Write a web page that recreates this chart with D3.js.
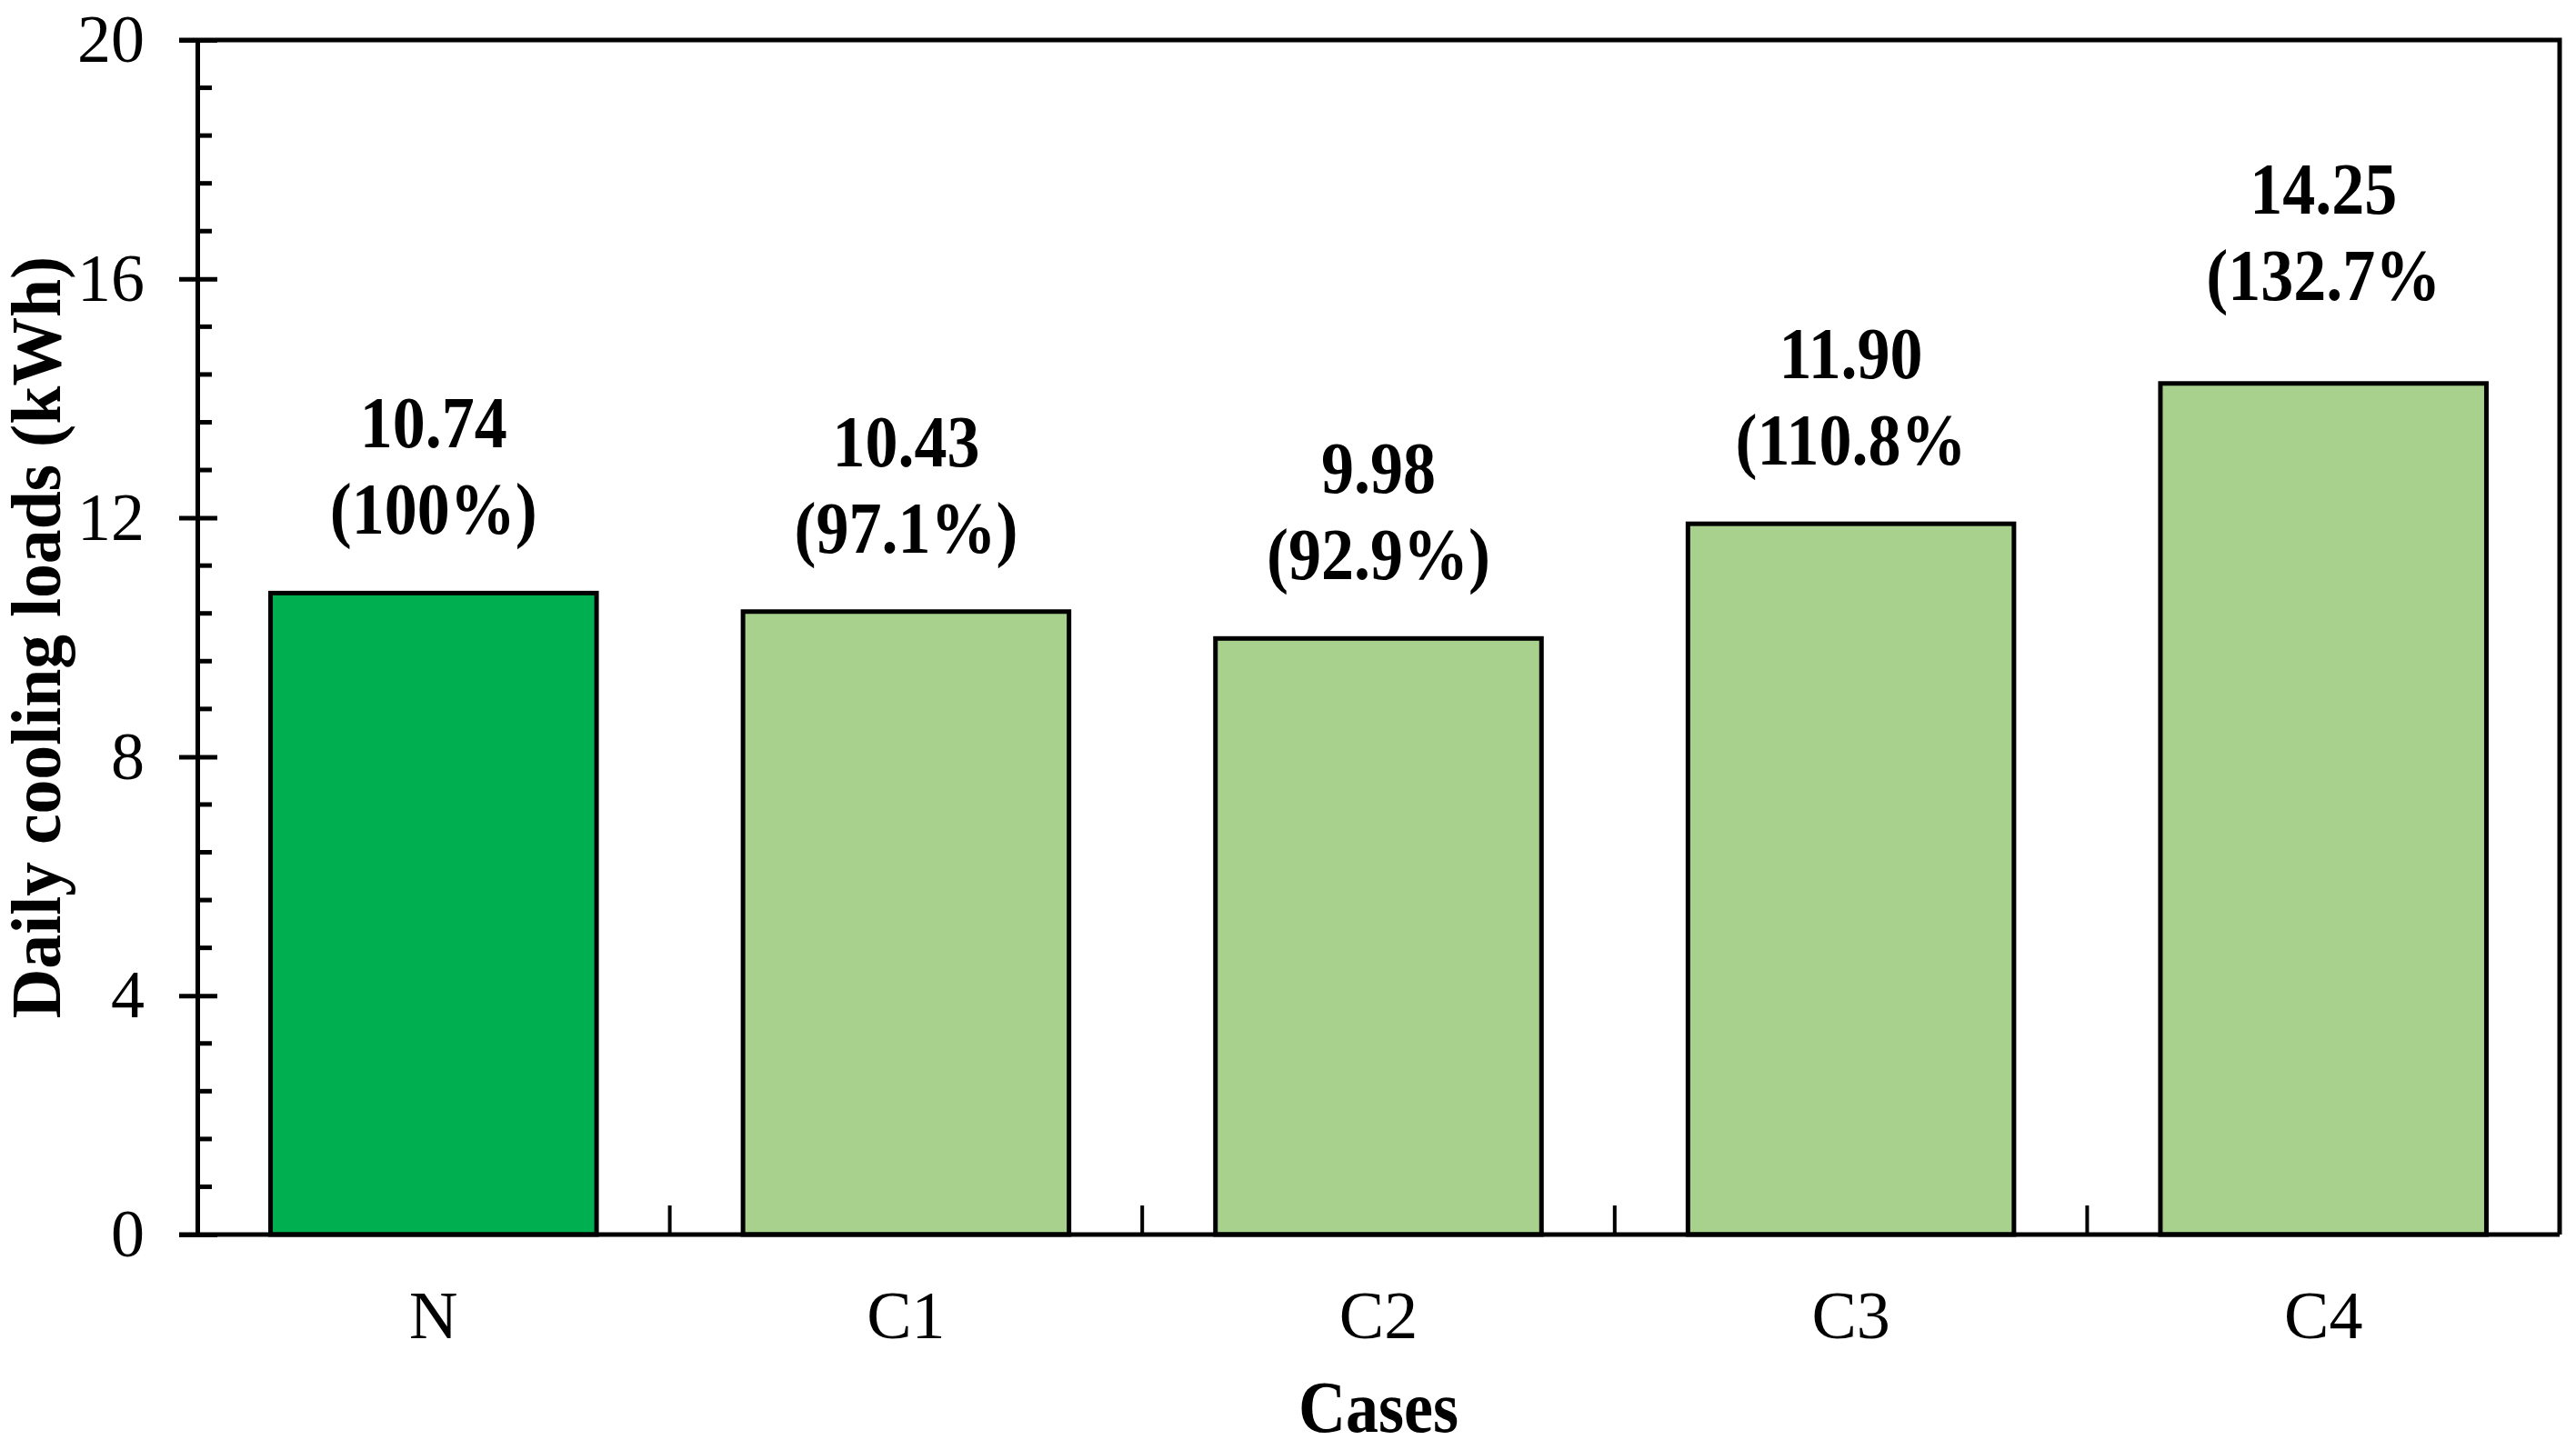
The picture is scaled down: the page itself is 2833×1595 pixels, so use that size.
<!DOCTYPE html>
<html>
<head>
<meta charset="utf-8">
<script src="https://cdn.jsdelivr.net/npm/d3@7"></script>
<style>
  body { margin: 0; background: #fff; }
  svg { display: block; }
</style>
</head>
<body>
<div id="chart"></div>
<script>
// chart data
var cases = ["N", "C1", "C2", "C3", "C4"];
var loads = [10.74, 10.43, 9.98, 11.90, 14.25];
var shares = ["(100%)", "(97.1%)", "(92.9%)", "(110.8%", "(132.7%"];
var yTicks = [0, 4, 8, 12, 16, 20];

// canvas
var svgWidth = 2833;
var svgHeight = 1595;
var plotLeft = 217, plotRight = 2815, plotTop = 44, plotBottom = 1358;

var svg = d3.select("#chart")
  .append("svg")
  .attr("width", svgWidth)
  .attr("height", svgHeight);

var serif = "'Liberation Serif', 'Times New Roman', serif";

// scales
var x = d3.scaleBand()
  .domain(cases)
  .range([plotLeft, plotRight])
  .paddingInner(0.31)
  .paddingOuter(0.155);

var y = d3.scaleLinear().domain([0, 20]).range([plotBottom, plotTop]);

// frame (top and right borders)
svg.append("path")
  .attr("d", `M${plotLeft - 20},${plotTop} H${plotRight} V${plotBottom}`)
  .attr("fill", "none")
  .attr("stroke", "#000")
  .attr("stroke-width", 5);

// bars
svg.selectAll("rect.bar")
  .data(loads)
  .enter()
  .append("rect")
  .attr("class", "bar")
  .attr("x", (d, i) => x(cases[i]))
  .attr("y", d => y(d))
  .attr("width", x.bandwidth())
  .attr("height", d => y(0) - y(d))
  .attr("fill", (d, i) => i === 0 ? "#00b050" : "#a9d18e")
  .attr("stroke", "#000")
  .attr("stroke-width", 5);

// y axis: major ticks cross the line, minor ticks point inward
var yAxis = svg.append("g")
  .attr("transform", `translate(${plotLeft},0)`)
  .call(d3.axisLeft(y).tickValues(yTicks).tickSize(20).tickSizeOuter(0).tickPadding(38));
yAxis.select(".domain").attr("stroke-width", 5);
yAxis.selectAll(".tick line")
  .attr("x2", 22).attr("x1", -20)
  .attr("stroke-width", 5);
yAxis.selectAll(".tick text")
  .attr("font-family", serif)
  .attr("font-size", 74)
  .attr("fill", "#000");

var minor = d3.range(0, 20.001, 0.8).filter(v => Math.abs(v / 4 - Math.round(v / 4)) > 1e-6);
svg.append("g")
  .selectAll("line")
  .data(minor)
  .enter()
  .append("line")
  .attr("x1", plotLeft).attr("x2", plotLeft + 16)
  .attr("y1", d => y(d)).attr("y2", d => y(d))
  .attr("stroke", "#000")
  .attr("stroke-width", 5);

// x axis
var xAxis = svg.append("g")
  .attr("transform", `translate(0,${plotBottom})`)
  .call(d3.axisBottom(x).tickSize(0).tickSizeOuter(0).tickPadding(0));
xAxis.select(".domain").remove();
xAxis.selectAll(".tick text")
  .attr("font-family", serif)
  .attr("font-size", 74)
  .attr("fill", "#000")
  .attr("dy", null)
  .attr("y", 114);

svg.append("line")
  .attr("x1", plotLeft - 20).attr("x2", plotRight)
  .attr("y1", plotBottom).attr("y2", plotBottom)
  .attr("stroke", "#000")
  .attr("stroke-width", 5);

// category separators on the x axis, pointing up
svg.append("g")
  .selectAll("line")
  .data(cases.slice(1))
  .enter()
  .append("line")
  .attr("x1", d => x(d) - x.step() * x.paddingInner() / 2)
  .attr("x2", d => x(d) - x.step() * x.paddingInner() / 2)
  .attr("y1", plotBottom).attr("y2", plotBottom - 32)
  .attr("stroke", "#000")
  .attr("stroke-width", 4);

// value labels above the bars
var labels = svg.append("g")
  .attr("font-family", serif)
  .attr("font-weight", "bold")
  .attr("font-size", 80)
  .attr("text-anchor", "middle")
  .attr("fill", "#000");

loads.forEach(function(v, i) {
  var cx = x(cases[i]) + x.bandwidth() / 2;
  var base = y(v) - 65 - (i === 4 ? 27 : 0);
  labels.append("text")
    .attr("transform", `translate(${cx},${base - 95}) scale(0.9,1)`)
    .text(v.toFixed(2));
  labels.append("text")
    .attr("transform", `translate(${cx},${base}) scale(0.9,1)`)
    .text(shares[i]);
});

// axis titles
svg.append("text")
  .attr("transform", `translate(${(plotLeft + plotRight) / 2},1575) scale(0.9,1)`)
  .attr("text-anchor", "middle")
  .attr("font-family", serif)
  .attr("font-weight", "bold")
  .attr("font-size", 80)
  .text("Cases");

svg.append("text")
  .attr("transform", `translate(66,${(plotTop + plotBottom) / 2}) rotate(-90) scale(0.97,1)`)
  .attr("text-anchor", "middle")
  .attr("font-family", serif)
  .attr("font-weight", "bold")
  .attr("font-size", 78)
  .text("Daily cooling loads (kWh)");
</script>
</body>
</html>
